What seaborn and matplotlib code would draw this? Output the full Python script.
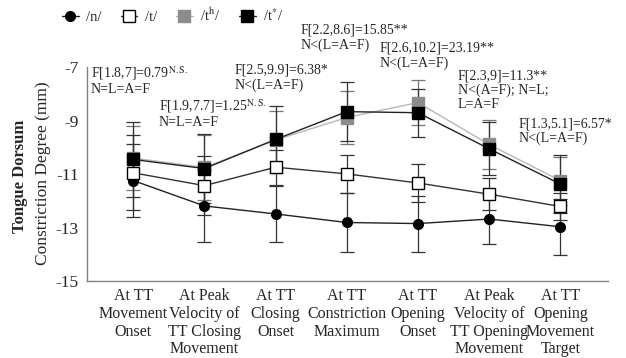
# Tongue dorsum constriction degree at seven time points, four consonant types
import numpy as np
import pandas as pd
import seaborn as sns
import matplotlib.pyplot as plt
from matplotlib.lines import Line2D

# categories along x
time_points = ["At TT\nMovement\nOnset",
               "At Peak\nVelocity of\nTT Closing\nMovement",
               "At TT\nClosing\nOnset",
               "At TT\nConstriction\nMaximum",
               "At TT\nOpening\nOnset",
               "At Peak\nVelocity of\nTT Opening\nMovement",
               "At TT\nOpening\nMovement\nTarget"]

# means (mm)
mean_n = [-11.24, -12.19, -12.49, -12.81, -12.85, -12.68, -12.97]
mean_t = [-10.95, -11.43, -10.74, -10.99, -11.33, -11.75, -12.21]
mean_th = [-10.40, -10.75, -9.72, -8.88, -8.32, -9.89, -11.24]
mean_tf = [-10.45, -10.79, -9.70, -8.66, -8.70, -10.05, -11.37]

# standard deviations (error bars)
sd_n = [1.35, 1.35, 1.05, 1.10, 1.05, 0.95, 1.05]
sd_t = [1.40, 1.10, 0.65, 0.70, 0.70, 0.60, 0.50]
sd_th = [1.20, 1.20, 1.10, 1.00, 0.85, 0.90, 0.90]
sd_tf = [1.40, 1.30, 1.25, 1.10, 0.90, 1.00, 1.10]

# statistics notes above each time point
stat_notes = ["F[1.8,7]=0.79$^{\\rm N.S.}$\nN=L=A=F",
              "F[1.9,7.7]=1.25$^{\\rm N.S.}$\nN=L=A=F",
              "F[2.5,9.9]=6.38*\nN<(L=A=F)",
              "F[2.2,8.6]=15.85**\nN<(L=A=F)",
              "F[2.6,10.2]=23.19**\nN<(L=A=F)",
              "F[2.3,9]=11.3**\nN<(A=F); N=L;\nL=A=F",
              "F[1.3,5.1]=6.57*\nN<(L=A=F)"]
note_px = [(91, 64), (159, 97), (235, 64), (301, 24), (380, 42), (458, 69), (519, 117)]

sns.set_style("white")
plt.rcParams['font.family'] = ['Liberation Serif', 'DejaVu Serif']
plt.rcParams['mathtext.fontset'] = 'stix'

W, H = 626, 358
fig = plt.figure(figsize=(W / 100, H / 100), dpi=100)
ax = fig.add_axes([87 / W, 1 - 281 / H, (608 - 87) / W, (281 - 67.3) / H])

pos = np.arange(len(time_points))
series = [
    ("/n/", mean_n, sd_n, dict(marker="o", color="#222222", markerfacecolor="black",
                              markeredgecolor="black", markersize=7)),
    ("/t/", mean_t, sd_t, dict(marker="s", color="#333333", markerfacecolor="white",
                              markeredgecolor="black", markersize=8)),
    ("/t$^{\\rm h}$/", mean_th, sd_th, dict(marker="s", color="#b8b8b8", markerfacecolor="#8c8c8c",
                                          markeredgecolor="#8c8c8c", markersize=8)),
    ("/t$^{*}$/", mean_tf, sd_tf, dict(marker="s", color="#222222", markerfacecolor="black",
                                      markeredgecolor="black", markersize=8)),
]

for name, m, sd, kw in series:
    ecol = "#777777" if kw["markerfacecolor"] == "#8c8c8c" else "#333333"
    ax.errorbar(pos, m, yerr=sd, fmt="none", ecolor=ecol, elinewidth=0.9,
                capsize=5, capthick=0.9, zorder=1)

handles = []
for name, m, sd, kw in series:
    df = pd.DataFrame({"pos": pos, "val": m})
    sns.lineplot(data=df, x="pos", y="val", ax=ax, linewidth=1.0, markeredgewidth=1.0,
                 zorder=3, **kw)
    handles.append(Line2D([], [], linewidth=1.0, markeredgewidth=1.0, label=name, **kw))

ax.set_xlim(-0.65, 6.67)
ax.set_ylim(-15, -7)
ax.set_yticks([-15, -13, -11, -9, -7])
ax.set_yticklabels(["-15", "-13", "-11", "-9", "-7"], fontsize=12.5)
ax.set_xticks(pos)
ax.set_xticklabels(time_points, fontsize=11.5, linespacing=1.15)
ax.tick_params(axis="x", direction="in", length=10, color="#808080", pad=5)
ax.tick_params(axis="y", direction="out", length=4, color="#808080", pad=2)
ax.set_xlabel("")
ax.set_ylabel("")
for side in ["top", "right"]:
    ax.spines[side].set_visible(False)
for side in ["left", "bottom"]:
    ax.spines[side].set_color("#808080")
    ax.spines[side].set_linewidth(1.0)

fig.text(20 / W, 1 - 176 / H, "Tongue Dorsum", rotation=90, ha="center", va="center",
         fontsize=12, fontweight="bold")
fig.text(43 / W, 1 - 173 / H, "Constriction Degree (mm)", rotation=90, ha="center",
         va="center", fontsize=12.5)

for note, (px, py) in zip(stat_notes, note_px):
    fig.text(px / W, 1 - py / H, note, ha="left", va="top", fontsize=10, linespacing=1.1)

fig.legend(handles=handles, loc="center left", bbox_to_anchor=(62 / W, 1 - 15 / H),
           ncol=4, frameon=False, fontsize=10.5, handlelength=1.15, handletextpad=0.5,
           columnspacing=1.3, borderaxespad=0, borderpad=0)

fig.savefig("out.png", dpi=100)
